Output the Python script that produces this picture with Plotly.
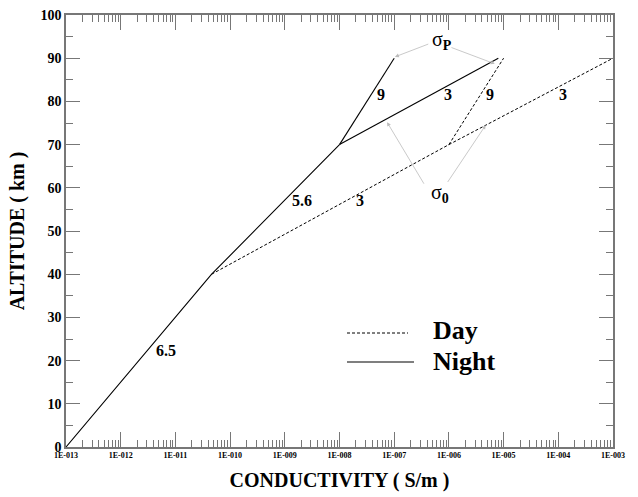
import plotly.graph_objects as go
import math

# Night profile (solid)
night_main_x = [1e-13, 4.6e-11, 1e-8]
night_main_y = [0, 40, 70]
night_p_x = [1e-8, 1e-7]
night_p_y = [70, 90]
night_0_x = [1e-8, 8e-6]
night_0_y = [70, 90]

# Day profile (dashed)
day_main_x = [4.6e-11, 1e-6]
day_main_y = [40, 70]
day_p_x = [1e-6, 1e-5]
day_p_y = [70, 90]
day_0_x = [1e-6, 1e-3]
day_0_y = [70, 90]

# slope labels
slope_text = ["6.5", "5.6", "3", "9", "3", "9", "3"]
slope_x = [6.6e-12, 2.05e-9, 2.4e-8, 5.8e-8, 9.5e-7, 5.6e-6, 1.23e-4]
slope_y = [22.4, 57.1, 57.0, 81.6, 81.6, 81.6, 81.6]

x_tickvals = [10.0 ** e for e in range(-13, -2)]
x_ticktext = ["1E-%03d" % (-e) for e in range(-13, -2)]
x_minor = [k * 10.0 ** e for e in range(-13, -3) for k in range(2, 10)]

SERIF = "Liberation Serif"
AX = "#777777"

fig = go.Figure()
for xs, ys in [(night_main_x, night_main_y), (night_p_x, night_p_y), (night_0_x, night_0_y)]:
    fig.add_trace(go.Scatter(x=xs, y=ys, mode="lines", line=dict(color="black", width=1.1),
                             showlegend=False, hoverinfo="skip"))
for xs, ys in [(day_main_x, day_main_y), (day_p_x, day_p_y), (day_0_x, day_0_y)]:
    fig.add_trace(go.Scatter(x=xs, y=ys, mode="lines",
                             line=dict(color="black", width=1, dash="3px,2px"),
                             showlegend=False, hoverinfo="skip"))

for t, x, y in zip(slope_text, slope_x, slope_y):
    fig.add_annotation(x=math.log10(x), y=y, xref="x", yref="y", text="<b>%s</b>" % t,
                       showarrow=False, font=dict(family=SERIF, size=16, color="black"))

# sigma labels
fig.add_annotation(x=math.log10(7.4e-7), y=94.1, xref="x", yref="y",
                   text="σ<sub><b>P</b></sub>", showarrow=False,
                   font=dict(family=SERIF, size=20, color="black"))
fig.add_annotation(x=math.log10(6.9e-7), y=58.7, xref="x", yref="y",
                   text="σ<sub><b>0</b></sub>", showarrow=False,
                   font=dict(family=SERIF, size=20, color="black"))

arrows = [
    (1.03e-7, 90.3, -6.35, 93.4),
    (6.9e-6, 88.7, -5.98, 92.6),
    (7.4e-8, 75.2, -6.44, 60.6),
    (4.7e-6, 74.5, -6.04, 61.0),
]
for tx, ty, axx, ayy in arrows:
    fig.add_annotation(x=math.log10(tx), y=ty, xref="x", yref="y",
                       ax=axx, ay=ayy, axref="x", ayref="y", text="",
                       showarrow=True, arrowhead=2, arrowsize=1, arrowwidth=0.8,
                       arrowcolor="#bbbbbb", standoff=0, startstandoff=0)

L, R, T, B = 66, 25, 15, 50
W, H = 638, 497
fig.update_layout(
    width=W, height=H,
    margin=dict(l=L, r=R, t=T, b=B),
    paper_bgcolor="white", plot_bgcolor="white",
    showlegend=False,
)

pw, ph = W - L - R, H - T - B
def px(x):
    return (x - L) / pw
def py(y):
    return (H - B - y) / ph

fig.add_shape(type="line", xref="paper", yref="paper", x0=px(347), x1=px(408), y0=py(333), y1=py(333),
              line=dict(color="black", width=1, dash="3px,2px"))
fig.add_shape(type="line", xref="paper", yref="paper", x0=px(347), x1=px(414), y0=py(362), y1=py(362),
              line=dict(color="black", width=1.1))
fig.add_annotation(x=px(431), y=py(331), xref="paper", yref="paper", text="<b>Day</b>",
                   showarrow=False, xanchor="left", yanchor="middle",
                   font=dict(family=SERIF, size=26, color="black"))
fig.add_annotation(x=px(431), y=py(361), xref="paper", yref="paper", text="<b>Night</b>",
                   showarrow=False, xanchor="left", yanchor="middle",
                   font=dict(family=SERIF, size=26, color="black"))

fig.update_xaxes(
    type="log", range=[-13, -3], automargin=False,
    tickmode="array", tickvals=x_tickvals, ticktext=x_ticktext,
    ticks="inside", ticklen=15, tickwidth=1, tickcolor=AX,
    minor=dict(tickmode="array", tickvals=x_minor, ticks="inside", ticklen=7,
               tickwidth=1, tickcolor=AX, showgrid=False),
    showline=True, linecolor=AX, linewidth=1.5, mirror="ticks",
    showgrid=False, zeroline=False,
    tickfont=dict(family=SERIF, size=8, color="black", weight="bold"),
    title=dict(text="<b>CONDUCTIVITY ( S/m )</b>", font=dict(family=SERIF, size=20, color="black"),
               standoff=14),
)
fig.update_yaxes(
    range=[0, 100], tickmode="linear", tick0=0, dtick=10, automargin=False,
    ticks="inside", ticklen=14, tickwidth=1, tickcolor=AX,
    minor=dict(tick0=5, dtick=10, ticks="inside", ticklen=7, tickwidth=1, tickcolor=AX, showgrid=False),
    showline=True, linecolor=AX, linewidth=1.5, mirror="ticks",
    showgrid=False, zeroline=False,
    tickfont=dict(family=SERIF, size=14, color="black", weight="bold"),
    title=dict(text="<b>ALTITUDE ( km )</b>", font=dict(family=SERIF, size=20, color="black"),
               standoff=10),
)

fig.write_html("out.html", post_script="document.body.style.margin='0';",
               config={"displayModeBar": False})
